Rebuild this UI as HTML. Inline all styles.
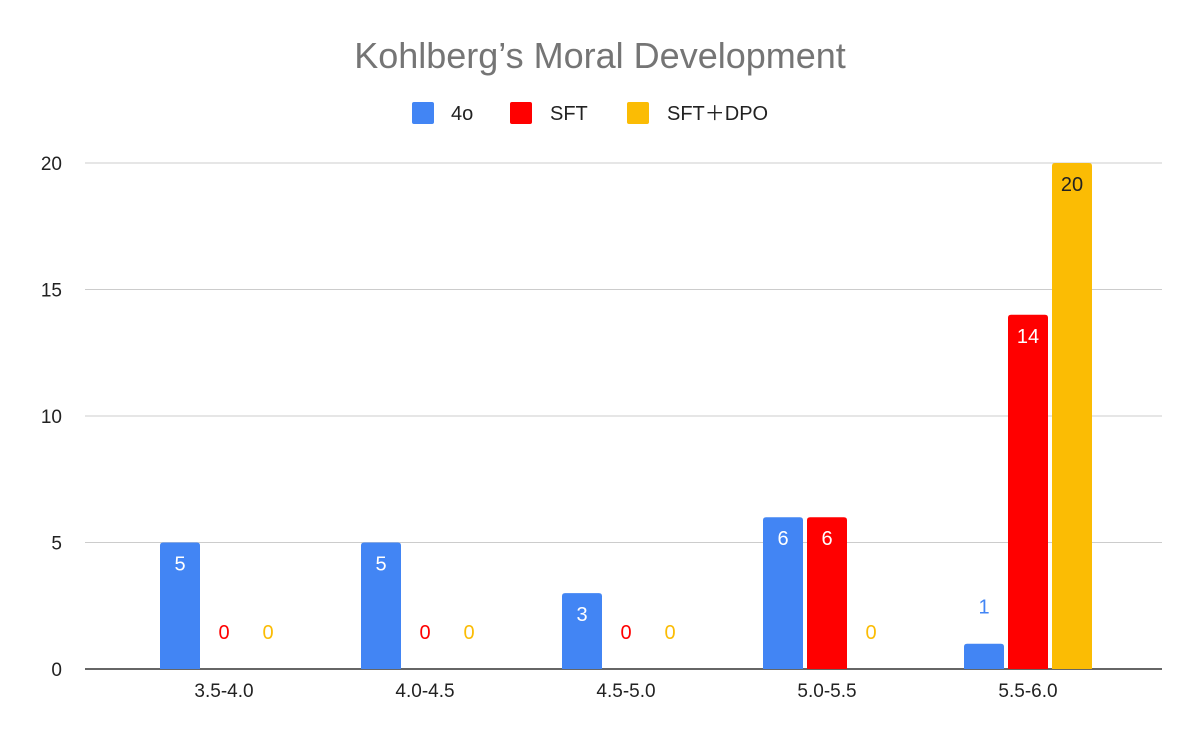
<!DOCTYPE html>
<html><head><meta charset="utf-8"><style>
body{margin:0;background:#fff;}
svg text{font-family:"Liberation Sans","Noto Sans CJK JP",sans-serif;}
</style></head><body>
<svg id="chart" width="1200" height="742">
<text x="600" y="68" text-anchor="middle" font-size="36" fill="#757575">Kohlberg’s Moral Development</text>
<g>
<rect x="412" y="102" width="22" height="22" rx="2" fill="#4285f4"/>
<text x="451" y="120" font-size="20" fill="#222">4o</text>
<rect x="510" y="102" width="22" height="22" rx="2" fill="#ff0000"/>
<text x="550" y="120" font-size="20" fill="#222">SFT</text>
<rect x="627" y="102" width="22" height="22" rx="2" fill="#fbbc04"/>
<text x="667" y="120" font-size="20" fill="#222">SFT＋DPO</text>
</g>
<g id="grid"></g><g id="bars"></g>
</svg>
<script>
const categories=["3.5-4.0","4.0-4.5","4.5-5.0","5.0-5.5","5.5-6.0"];
const series4o=[5,5,3,6,1];
const seriesSFT=[0,0,0,6,14];
const seriesDPO=[0,0,0,0,20];
const yTicks=[0,5,10,15,20];
const NS="http://www.w3.org/2000/svg";
const y=v=>669-v*25.3;
const x=i=>224+i*201;
function mk(t,a,p){const e=document.createElementNS(NS,t);for(const k in a)e.setAttribute(k,a[k]);p.appendChild(e);return e;}
const grid=document.getElementById('grid'),bars=document.getElementById('bars');
yTicks.forEach(v=>{
 const l=mk('line',{x1:85,x2:1162,y1:y(v),y2:y(v),stroke:v===0?'#333':'#ccc','stroke-width':v===0?1.5:1},grid);
 
 
 const t=mk('text',{x:62,y:y(v)+7,'text-anchor':'end','font-size':19,fill:'#222'},grid);t.textContent=v;
 
 
});
const ser=[[series4o,'#4285f4','4o'],[seriesSFT,'#ff0000','sft'],[seriesDPO,'#fbbc04','sft-dpo']];
categories.forEach((c,i)=>{
 const t=mk('text',{x:x(i),y:697,'text-anchor':'middle','font-size':19,fill:'#222'},grid);t.textContent=c;
 
 
 ser.forEach((s,j)=>{
  const v=s[0][i],cx=x(i)+(j-1)*44;
  if(v>0){const r=mk('path',{d:`M${cx-20},669V${y(v)+3}q0,-3 3,-3h34q3,0 3,3V669Z`,fill:s[1]},bars);
   
   }
  const inside=v>=2;
  const lt=mk('text',{x:cx,y:inside?y(v)+28:y(v)-30,'text-anchor':'middle','font-size':20,fill:inside?(j==2?'#222':'#fff'):s[1]},bars);
  lt.textContent=v;
  
  
 });
});
</script>
</body></html>
